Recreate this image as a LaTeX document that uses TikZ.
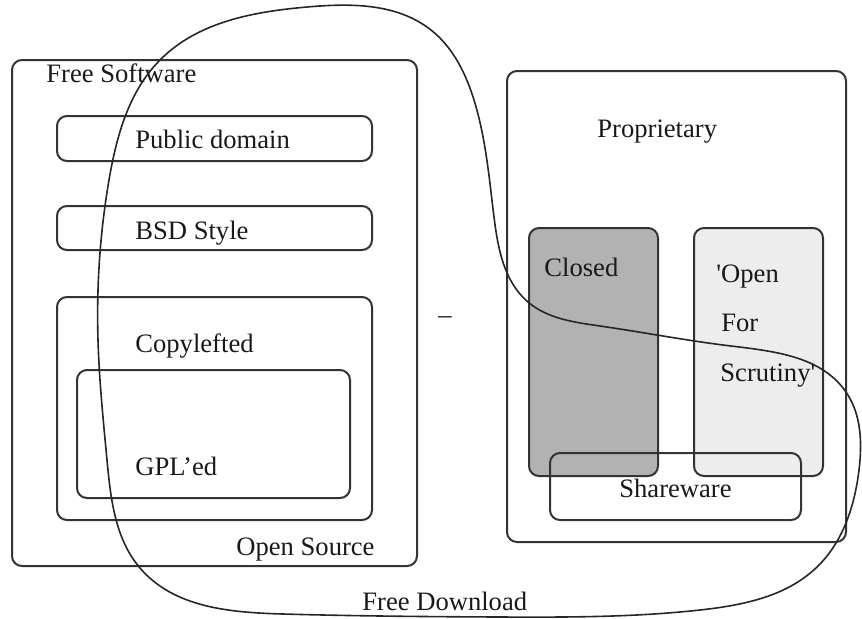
\documentclass[tikz,border=0pt]{standalone}
\usepackage{fontspec}
\setmainfont{Liberation Serif}
\usetikzlibrary{hobby}
\begin{document}
\begin{tikzpicture}[x=0.5pt,y=-0.5pt,
  box/.style={draw=black!80,line width=1pt,rounded corners=5pt},
  lbl/.style={inner sep=0pt,anchor=base west,font=\fontsize{13.3}{16}\selectfont,text=black!90}]
\useasboundingbox (0,0) rectangle (862,618);
% left group
\draw[box] (12,60) rectangle (417,566);
\draw[box] (57,116) rectangle (372,161);
\draw[box] (57,206) rectangle (372,250);
\draw[box] (57,297) rectangle (372,520);
\draw[box] (77,370) rectangle (350,498);
% right group
\draw[box] (507,71) rectangle (846,542);
\draw[box,fill=black!30] (529,228) rectangle (658,476);
\draw[box,fill=black!7] (694,228) rectangle (823,476);
\draw[box] (550,453) rectangle (801,520);
% labels
\node[lbl] (fs) at (46,82) {Free Software};
\node[lbl] (pd) at (135,148) {Public domain};
\node[lbl] (bsd) at (135,239) {BSD Style};
\node[lbl] (cl) at (135,352) {Copylefted};
\node[lbl] (gpl) at (135,475) {GPL'ed};
\node[lbl] (os) at (236,555) {Open Source};
\node[lbl] (fd) at (362,610) {Free Download};
\node[lbl] (pr) at (597,137) {Proprietary};
\node[lbl] (cls) at (544,276) {Closed};
\node[lbl] (op1) at (716,282) {\textquotesingle Open};
\node[lbl] (op2) at (721,331) {For};
\node[lbl] (op3) at (720,381) {Scrutiny\textquotesingle};
\node[lbl] (sw) at (619,497) {Shareware};
\node[lbl] (dash) at (438,323) {\textendash};
% free download curve
\draw[black!85,line width=0.8pt,use Hobby shortcut,closed=true]
 (307,7) .. (160,60) .. (109,180) .. (98,340) .. (107,460) .. (140,568)
 .. (283,614) .. (500,617) .. (700,610) .. (817,567) .. (859,470)
 .. (846,392) .. (731,346) .. (600,326) .. (528,302) .. (494,217)
 .. (474,100) .. (431,30);
\end{tikzpicture}
\end{document}
